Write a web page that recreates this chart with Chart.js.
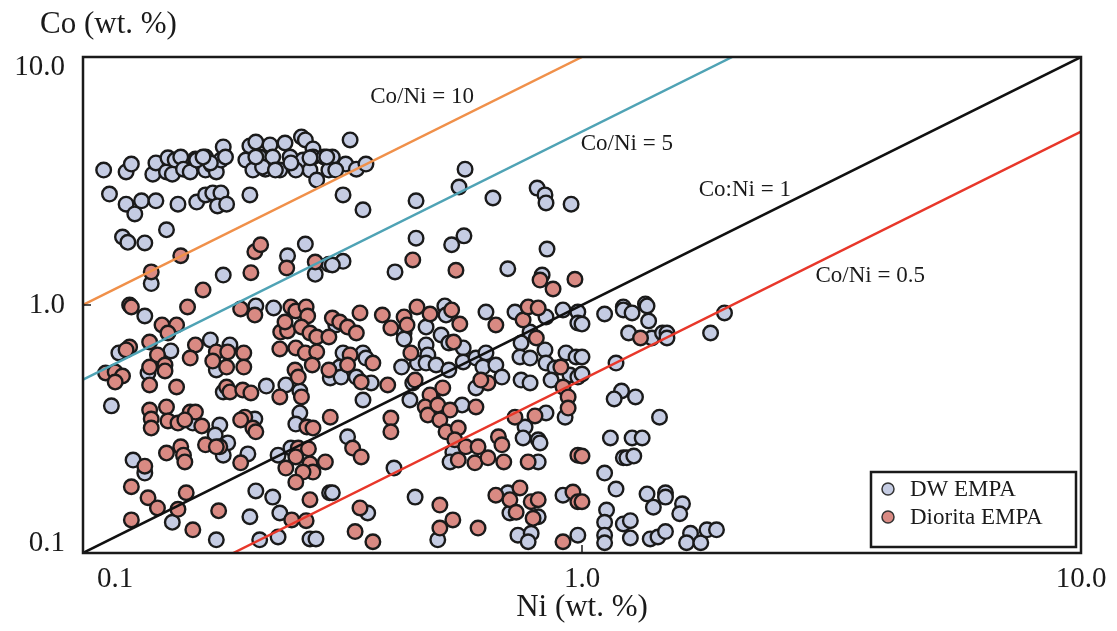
<!DOCTYPE html>
<html>
<head>
<meta charset="utf-8">
<script src="https://cdn.jsdelivr.net/npm/chart.js@4.4.1/dist/chart.umd.min.js"></script>
<style>
html, body { margin: 0; padding: 0; background: #fff; }
#wrap { width: 1117px; height: 631px; }
</style>
</head>
<body>
<div id="wrap"><canvas id="chart" width="1117" height="631"></canvas></div>
<script>
// DW EMPA (Ni, Co in wt. %)
const dwNi = [
  0.110,0.122,0.125,0.138,0.140,0.147,0.148,0.153,0.151,0.157,
  0.159,0.164,0.168,0.176,0.176,0.181,0.185,0.189,0.191,0.193,
  0.216,0.222,0.212,0.219,0.226,0.237,0.240,0.232,0.248,0.254,
  0.260,0.264,0.274,0.279,0.289,0.276,0.289,0.285,0.294,0.304,
  0.311,0.113,0.122,0.127,0.131,0.140,0.155,0.169,0.176,0.182,
  0.189,0.186,0.194,0.216,0.120,0.123,0.133,0.147,0.137,0.191,
  0.257,0.279,0.292,0.311,0.343,0.316,0.336,0.321,0.353,0.369,
  0.332,0.364,0.465,0.583,0.567,0.663,0.813,0.843,0.847,0.951,
  0.465,0.548,0.580,0.851,0.332,0.316,0.422,0.710,0.832,1.21,
  1.34,
  0.229,0.267,0.308,0.222,0.180,0.169,0.174,0.243,0.285,0.261,
  0.133,0.222,0.241,0.180,0.197,0.118,0.150,0.185,0.313,
  0.135,0.191,0.233,0.255,0.272,0.114,0.166,0.221,0.188,0.184,0.195,
  0.191,0.272,0.267,0.214,0.126,0.133,0.246,0.261,0.151,0.216,
  0.222,0.240,0.248,0.312,0.185,0.226,0.246,0.285,0.293,
  0.321,0.327,0.364,
  0.440,0.440,0.531,0.534,0.487,0.522,0.541,0.578,0.487,0.642,
  0.734,0.847,0.916,0.981,0.981,0.787,0.755,0.332,0.364,0.369,
  0.329,0.353,0.378,0.435,0.468,0.491,0.487,0.510,0.541,0.458,
  0.452,0.578,0.613,0.642,0.633,0.672,0.691,0.613,0.755,0.787,
  0.751,0.787,0.843,0.847,0.883,0.867,0.929,0.973,0.946,0.981,
  0.925,0.503,0.575,0.847,0.769,0.762,0.817,0.824,0.817,0.551,
  0.544,0.339,0.420,0.316,0.463,0.514,0.372,0.710,0.717,0.817,
  0.744,0.791,0.780,0.916,0.981,
  1.11,1.21,1.26,1.35,1.36,1.00,1.24,1.38,1.45,1.48,
  1.48,1.81,1.93,1.00,1.00,1.17,1.20,1.16,1.28,1.43,
  1.14,1.26,1.32,1.21,1.23,1.27,1.11,1.17,1.35,1.47,
  1.47,1.39,1.59,1.57,1.12,1.11,1.21,1.25,1.11,1.11,
  1.25,1.37,1.42,1.47,1.65,1.62,1.73,1.78,1.86
];
const dwCo = [
  3.50,3.44,3.70,3.37,3.74,3.44,3.92,3.84,3.37,3.95,
  3.53,3.44,3.88,3.95,3.50,3.67,3.44,3.84,4.34,3.95,
  4.38,4.54,3.84,3.50,3.95,4.42,3.95,3.53,3.50,4.50,
  3.95,3.67,4.76,4.63,4.26,3.84,3.95,3.50,3.19,3.95,
  3.50,2.80,2.55,2.33,2.63,2.63,2.55,2.60,2.78,2.83,
  2.83,2.51,2.55,2.78,1.88,1.79,1.78,2.01,1.22,1.32,
  1.58,1.76,1.33,1.46,4.63,3.95,3.70,3.50,3.53,3.70,
  2.78,2.42,2.63,3.53,2.99,2.70,2.96,2.78,2.58,2.55,
  1.86,1.75,1.90,1.68,1.50,1.45,1.36,1.40,1.32,0.982,
  1.01,
  3.60,3.50,3.95,3.95,3.74,3.84,3.95,3.50,3.92,3.74,
  0.903,0.991,0.973,0.723,0.690,0.641,0.653,0.547,0.508,
  0.532,0.446,0.471,0.476,0.450,0.392,0.334,0.347,0.328,0.299,0.278,
  0.248,0.367,0.331,0.251,0.237,0.210,0.248,0.265,0.133,0.140,
  0.178,0.168,0.145,0.175,0.113,0.113,0.116,0.114,0.114,
  0.831,0.562,0.414,
  0.771,0.729,0.991,0.911,0.815,0.757,0.703,0.671,0.690,0.937,
  0.937,0.895,0.955,0.937,0.846,0.778,0.703,0.641,0.641,0.611,
  0.512,0.512,0.485,0.562,0.583,0.629,0.583,0.573,0.547,0.485,
  0.414,0.589,0.611,0.641,0.562,0.573,0.512,0.463,0.498,0.485,
  0.617,0.611,0.659,0.583,0.557,0.498,0.641,0.617,0.522,0.512,
  0.353,0.414,0.395,0.367,0.322,0.291,0.286,0.278,0.233,0.255,
  0.233,0.294,0.220,0.175,0.168,0.113,0.145,0.175,0.145,0.140,
  0.118,0.120,0.111,0.171,0.118,
  0.920,0.955,0.929,0.991,0.862,0.838,0.771,0.736,0.771,0.771,
  0.736,0.771,0.929,0.617,0.527,0.583,0.450,0.418,0.426,0.353,
  0.291,0.291,0.291,0.242,0.242,0.246,0.210,0.181,0.173,0.175,
  0.168,0.153,0.158,0.144,0.149,0.133,0.131,0.135,0.118,0.110,
  0.115,0.114,0.116,0.122,0.120,0.110,0.110,0.124,0.124
];

// Diorita EMPA (Ni, Co in wt. %)
const dioNi = [
  0.157,0.137,0.221,0.227,0.217,0.256,0.292,0.174,0.124,0.458,
  0.559,0.824,0.875,0.968,0.125,0.162,0.207,0.221,0.261,0.267,
  0.280,0.282,0.144,0.154,0.148,0.136,0.168,0.124,0.122,0.141,
  0.164,0.185,0.195,0.210,0.182,0.194,0.210,0.249,0.257,0.274,
  0.285,0.294,0.311,0.248,0.267,0.279,0.294,0.288,0.266,0.270,
  0.311,0.111,0.116,0.120,0.116,0.136,0.146,0.146,0.136,0.154,
  0.194,0.197,0.209,0.217,0.248,0.274,0.136,0.147,0.137,0.148,
  0.137,0.155,0.164,0.168,0.160,0.173,0.211,0.207,0.219,0.222,
  0.176,0.188,0.185,0.281,0.289,0.313,0.147,0.157,0.159,0.160,
  0.207,0.133,0.270,0.283,0.267,0.255,0.285,0.289,0.276,0.306,
  0.267,0.125,0.135,0.141,0.161,0.155,0.125,0.166,0.187,0.262,
  0.280,0.285,0.359,0.398,0.440,0.446,0.414,0.467,0.496,0.548,
  0.569,0.553,0.316,0.327,0.339,0.353,0.672,0.762,0.780,0.817,
  0.810,0.343,0.381,0.339,0.361,0.408,0.454,0.463,0.648,0.627,
  0.907,0.916,0.938,0.938,0.496,0.485,0.491,0.514,0.526,0.544,
  0.519,0.613,0.534,0.565,0.556,0.585,0.619,0.565,0.610,0.648,
  0.697,0.680,0.691,0.414,0.414,0.734,0.805,0.780,0.981,0.347,
  0.361,0.519,0.551,0.519,0.619,0.359,0.351,0.381,0.672,0.751,
  0.717,0.738,0.791,0.817,0.798,0.916,0.959,0.981,1.31,1.00,1.00,
  0.254
];
const dioCo = [
  1.58,1.36,1.64,1.75,1.35,1.41,1.49,1.15,1.00,1.52,
  1.38,1.26,1.16,1.27,0.982,0.982,0.964,0.911,0.982,0.946,
  0.982,0.903,0.831,0.831,0.771,0.709,0.690,0.677,0.659,0.629,
  0.611,0.647,0.647,0.641,0.594,0.562,0.562,0.778,0.786,0.815,
  0.771,0.743,0.743,0.665,0.671,0.641,0.647,0.573,0.547,0.512,
  0.547,0.532,0.537,0.517,0.489,0.562,0.573,0.542,0.476,0.467,
  0.467,0.446,0.454,0.442,0.426,0.426,0.377,0.388,0.347,0.341,
  0.319,0.334,0.370,0.370,0.344,0.325,0.353,0.344,0.319,0.308,
  0.273,0.268,0.268,0.322,0.319,0.353,0.253,0.268,0.248,0.233,
  0.231,0.224,0.265,0.263,0.244,0.220,0.229,0.212,0.212,0.233,
  0.193,0.185,0.167,0.152,0.175,0.150,0.136,0.124,0.148,0.136,
  0.135,0.164,0.929,0.911,0.895,0.831,0.808,0.982,0.920,0.955,
  0.838,0.709,0.886,0.854,0.815,0.771,0.831,0.870,0.982,0.973,
  0.736,0.629,0.583,0.573,0.489,0.476,0.641,0.498,0.485,0.498,
  0.562,0.467,0.426,0.384,0.434,0.388,0.360,0.395,0.463,0.377,
  0.344,0.388,0.308,0.319,0.286,0.268,0.268,0.237,0.231,0.242,
  0.233,0.294,0.273,0.350,0.308,0.353,0.357,0.233,0.248,0.265,
  0.244,0.156,0.136,0.126,0.126,0.152,0.122,0.111,0.171,0.183,
  0.164,0.146,0.161,0.164,0.138,0.111,0.176,0.161,0.736,0.246,0.161,
  0.854
];

// reference ratio lines: end points (Ni, Co)
const ratioNames = ['Co/Ni = 10', 'Co/Ni = 5', 'Co:Ni = 1', 'Co/Ni = 0.5'];
const ratioNi = [[0.1, 1], [0.1, 2], [0.1, 10], [0.2, 10]];
const ratioCo = [[1, 10], [0.5, 10], [0.1, 10], [0.1, 5]];

const tickValues = [0.1, 1, 10];
const tickLabels = ['0.1', '1.0', '10.0'];

const serif = '"Liberation Serif", "Times New Roman", serif';
const ink = '#1a1a1a';
const lineColors = ['#f0904a', '#4fa3b5', '#111111', '#e8372a'];
// where the ratio names sit, in data units
const nameAt = [[0.478, 6.9], [1.23, 4.46], [2.12, 2.91], [3.78, 1.31]];

const toPoints = (xs, ys) => xs.map((v, i) => ({ x: v, y: ys[i] }));

const lineSets = ratioNames.map((name, i) => ({
  type: 'line',
  label: name,
  data: toPoints(ratioNi[i], ratioCo[i]),
  borderColor: lineColors[i],
  borderWidth: 2.5,
  pointRadius: 0,
  fill: false,
  order: 0
}));

const overlay = {
  id: 'overlay',
  afterDraw(chart) {
    const { ctx, chartArea: a, scales: { x, y } } = chart;
    ctx.save();

    // frame
    ctx.strokeStyle = ink;
    ctx.lineWidth = 2.5;
    ctx.strokeRect(a.left, a.top, a.right - a.left, a.bottom - a.top);

    // small inner ticks at 1.0
    ctx.lineWidth = 1.5;
    ctx.beginPath();
    ctx.moveTo(x.getPixelForValue(1), a.bottom);
    ctx.lineTo(x.getPixelForValue(1), a.bottom - 8);
    ctx.moveTo(a.left, y.getPixelForValue(1));
    ctx.lineTo(a.left + 8, y.getPixelForValue(1));
    ctx.stroke();

    // tick labels
    ctx.fillStyle = ink;
    ctx.font = '29px ' + serif;
    ctx.textBaseline = 'middle';
    tickValues.forEach((v, i) => {
      const px = x.getPixelForValue(v);
      ctx.textAlign = i === 0 ? 'left' : 'center';
      ctx.fillText(tickLabels[i], i === 0 ? px + 14 : px, a.bottom + 26);
      const py = y.getPixelForValue(v);
      ctx.textAlign = 'right';
      ctx.fillText(tickLabels[i], a.left - 18, py + (i === 0 ? -10 : i === 2 ? 10 : 0));
    });

    // axis titles
    ctx.font = '31px ' + serif;
    ctx.textAlign = 'left';
    ctx.fillText('Co (wt. %)', 40, 25);
    ctx.textAlign = 'center';
    ctx.fillText('Ni (wt. %)', (a.left + a.right) / 2, a.bottom + 55);

    // ratio names
    ctx.font = '23px ' + serif;
    ratioNames.forEach((name, i) => {
      ctx.fillText(name, x.getPixelForValue(nameAt[i][0]), y.getPixelForValue(nameAt[i][1]));
    });

    // legend
    const bx = a.right - 210, by = a.bottom - 81, bw = 205, bh = 75;
    ctx.fillStyle = '#fff';
    ctx.fillRect(bx, by, bw, bh);
    ctx.strokeStyle = ink;
    ctx.lineWidth = 2.5;
    ctx.strokeRect(bx, by, bw, bh);
    const items = chart.data.datasets.filter(d => d.type === 'scatter');
    items.forEach((d, i) => {
      const cy = by + 17 + i * 28;
      ctx.beginPath();
      ctx.arc(bx + 17, cy, 6, 0, Math.PI * 2);
      ctx.fillStyle = d.backgroundColor;
      ctx.fill();
      ctx.lineWidth = 1.5;
      ctx.strokeStyle = '#333';
      ctx.stroke();
      ctx.fillStyle = ink;
      ctx.font = '23px ' + serif;
      ctx.textAlign = 'left';
      ctx.fillText(d.label, bx + 39, cy + 1);
    });

    ctx.restore();
  }
};

new Chart(document.getElementById('chart'), {
  data: {
    datasets: [
      ...lineSets,
      {
        type: 'scatter',
        label: 'DW EMPA',
        data: toPoints(dwNi, dwCo),
        backgroundColor: '#c5cce3',
        borderColor: ink,
        borderWidth: 2.4,
        pointRadius: 7.3,
        order: 2
      },
      {
        type: 'scatter',
        label: 'Diorita EMPA',
        data: toPoints(dioNi, dioCo),
        backgroundColor: '#d98a83',
        borderColor: ink,
        borderWidth: 2.4,
        pointRadius: 7.3,
        order: 1
      }
    ]
  },
  options: {
    responsive: false,
    animation: false,
    layout: { padding: { left: 0, top: 57, right: 36, bottom: 0 } },
    plugins: {
      legend: { display: false },
      tooltip: { enabled: false }
    },
    scales: {
      x: {
        type: 'logarithmic',
        min: 0.1,
        max: 10,
        afterBuildTicks: s => { s.ticks = tickValues.map(v => ({ value: v })); },
        afterFit: s => { s.height = 78; },
        ticks: { display: false },
        grid: { display: false },
        border: { display: false }
      },
      y: {
        type: 'logarithmic',
        min: 0.1,
        max: 10,
        afterBuildTicks: s => { s.ticks = tickValues.map(v => ({ value: v })); },
        afterFit: s => { s.width = 83; },
        ticks: { display: false },
        grid: { display: false },
        border: { display: false }
      }
    }
  },
  plugins: [overlay]
});
</script>
</body>
</html>
